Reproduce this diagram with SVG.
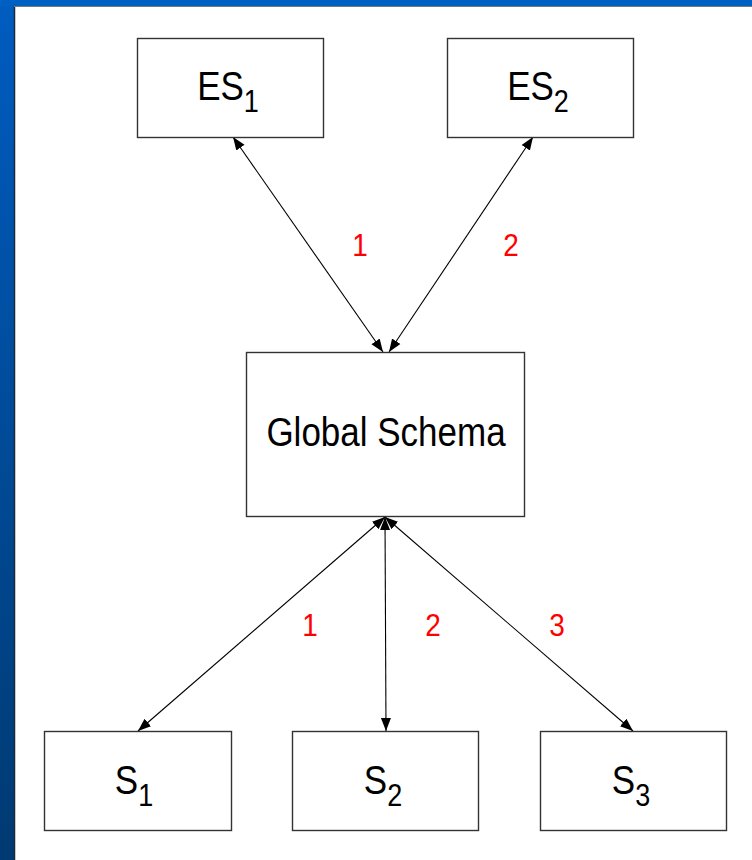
<svg xmlns="http://www.w3.org/2000/svg" width="752" height="860" viewBox="0 0 752 860">
  <style>
    .box { fill: #ffffff; stroke: #333333; stroke-width: 1.4; }
    .lbl { font-family: "Liberation Sans", Arial, sans-serif; font-size: 35px; fill: #000000; text-anchor: middle; }
    .sub { font-size: 27px; }
    .num { font-family: "Liberation Sans", Arial, sans-serif; font-size: 28px; fill: #ff0000; text-anchor: middle; }
    .conn { stroke: #000000; stroke-width: 1.1; fill: none; marker-start: url(#head); marker-end: url(#head); }
  </style>
  <defs>
    <linearGradient id="side" x1="0" y1="0" x2="0" y2="1">
      <stop offset="0" stop-color="#005cc0"/>
      <stop offset="1" stop-color="#003a72"/>
    </linearGradient>
    <marker id="head" markerUnits="userSpaceOnUse" markerWidth="14" markerHeight="12" refX="13" refY="5" orient="auto-start-reverse" viewBox="0 0 14 10">
      <path d="M0,0 L13,5 L0,10 Z" fill="#000000"/>
    </marker>
  </defs>

  <!-- frame -->
  <rect x="0" y="0" width="752" height="860" fill="url(#side)"/>
  <rect x="0" y="0" width="752" height="7" fill="#005fc2"/>
  <rect x="14" y="6" width="738" height="854" fill="#ffffff"/>
  <line x1="14.5" y1="6" x2="14.5" y2="860" stroke="#1a2a3a" stroke-width="1.5"/>
  <line x1="14" y1="6.5" x2="752" y2="6.5" stroke="#7a7a7a" stroke-width="1"/>

  <!-- connectors -->
  <g id="connectors">
    <line class="conn" x1="233" y1="137" x2="383" y2="352"/>
    <line class="conn" x1="533" y1="137" x2="389" y2="352"/>
    <line class="conn" x1="385" y1="517" x2="138" y2="731"/>
    <line class="conn" x1="385" y1="517" x2="386" y2="731"/>
    <line class="conn" x1="385" y1="517" x2="633" y2="731"/>
    <text class="num" transform="translate(360,256) scale(1,1.12)">1</text>
    <text class="num" transform="translate(511,256) scale(1,1.12)">2</text>
    <text class="num" transform="translate(310,636) scale(1,1.12)">1</text>
    <text class="num" transform="translate(433,636) scale(1,1.12)">2</text>
    <text class="num" transform="translate(557,636) scale(1,1.12)">3</text>
  </g>

  <g id="es1">
    <rect class="box" x="137.5" y="38.5" width="186" height="99"/>
    <text class="lbl" transform="translate(228,100) scale(1,1.18)">ES<tspan class="sub" dy="10">1</tspan></text>
  </g>
  <g id="es2">
    <rect class="box" x="447.5" y="38.5" width="186" height="99"/>
    <text class="lbl" transform="translate(538,100) scale(1,1.18)">ES<tspan class="sub" dy="10">2</tspan></text>
  </g>
  <g id="global">
    <rect class="box" x="246.5" y="352.5" width="278" height="164"/>
    <text class="lbl" transform="translate(386,446) scale(1,1.15)">Global Schema</text>
  </g>
  <g id="s1">
    <rect class="box" x="44.5" y="731.5" width="187" height="99"/>
    <text class="lbl" transform="translate(134,794) scale(1,1.18)">S<tspan class="sub" dy="10">1</tspan></text>
  </g>
  <g id="s2">
    <rect class="box" x="292.5" y="731.5" width="186" height="99"/>
    <text class="lbl" transform="translate(383,794) scale(1,1.18)">S<tspan class="sub" dy="10">2</tspan></text>
  </g>
  <g id="s3">
    <rect class="box" x="540.5" y="731.5" width="186" height="99"/>
    <text class="lbl" transform="translate(631,794) scale(1,1.18)">S<tspan class="sub" dy="10">3</tspan></text>
  </g>
</svg>
